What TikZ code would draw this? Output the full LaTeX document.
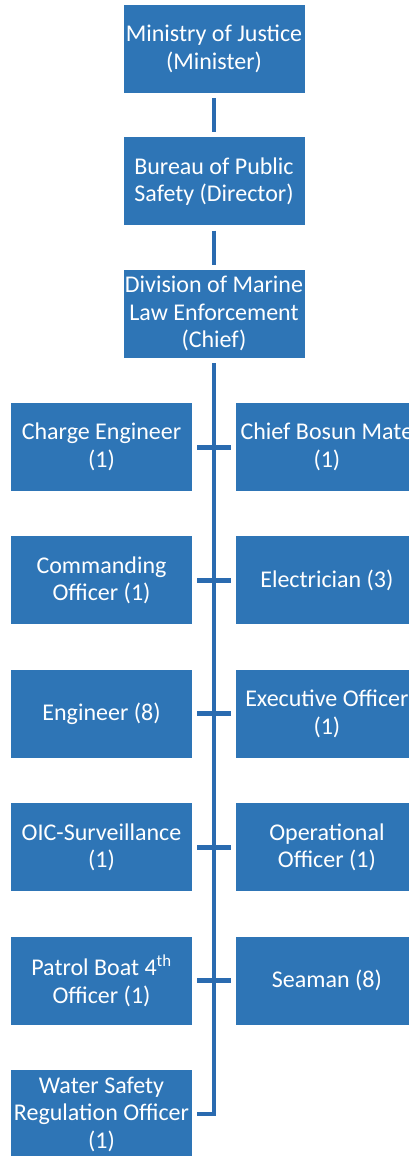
\documentclass[tikz,border=0pt]{standalone}
\usepackage{fontspec}
\setmainfont{Carlito}
\usepackage{tikz}
\usetikzlibrary{positioning}
\usepackage{xcolor}
\definecolor{orgblue}{HTML}{2E75B6}
\definecolor{linkblue}{HTML}{2A6BB0}

\begin{document}
\begin{tikzpicture}[x=1pt, y=1pt, node distance=44pt,
    box/.style={fill=orgblue, text=white, minimum width=181pt, minimum height=88pt,
        inner sep=0pt, align=center, font=\fontsize{24}{27.5}\selectfont},
    link/.style={draw=linkblue, line width=4.5pt, shorten <=5pt, shorten >=5pt}]
    \useasboundingbox (0,0) rectangle (409,-1156);
    \clip (0,0) rectangle (409,-1156);

    % Head of the chain
    \node (min) [box] at (214,-49) {Ministry of Justice\\(Minister)};
    \node (bur) [box, below=44pt of min] {Bureau of Public\\Safety (Director)};
    \node (div) [box, below=44pt of bur] {Division of Marine\\Law Enforcement\\(Chief)};

    % Left column
    \node (ce)  [box] at (101.5,-447) {Charge Engineer\\(1)};
    \node (co)  [box, below=45pt of ce] {Commanding\\Officer (1)};
    \node (eng) [box, below=45pt of co] {Engineer (8)};
    \node (oic) [box, below=45pt of eng] {OIC-Surveillance\\(1)};
    \node (pbo) [box, below=45pt of oic] {Patrol Boat 4\textsuperscript{th}\\Officer (1)};
    \node (wsr) [box, below=45pt of pbo] {Water Safety\\Regulation Officer\\(1)};

    % Right column
    \node (cbm) [box, right=44pt of ce] {Chief Bosun Mate\\(1)};
    \node (ele) [box, right=44pt of co] {Electrician (3)};
    \node (exo) [box, right=44pt of eng] {Executive Officer\\(1)};
    \node (opo) [box, right=44pt of oic] {Operational\\Officer (1)};
    \node (sea) [box, right=44pt of pbo] {Seaman (8)};

    % Connectors
    \draw[link] (min) -- (bur);
    \draw[link] (bur) -- (div);
    \draw[link, line join=miter] (div) |- (wsr);
    \draw[link, line width=5pt] (ce) -- (cbm);
    \draw[link, line width=5pt] (co) -- (ele);
    \draw[link, line width=5pt] (eng) -- (exo);
    \draw[link, line width=5pt] (oic) -- (opo);
    \draw[link, line width=5pt] (pbo) -- (sea);
\end{tikzpicture}
\end{document}
